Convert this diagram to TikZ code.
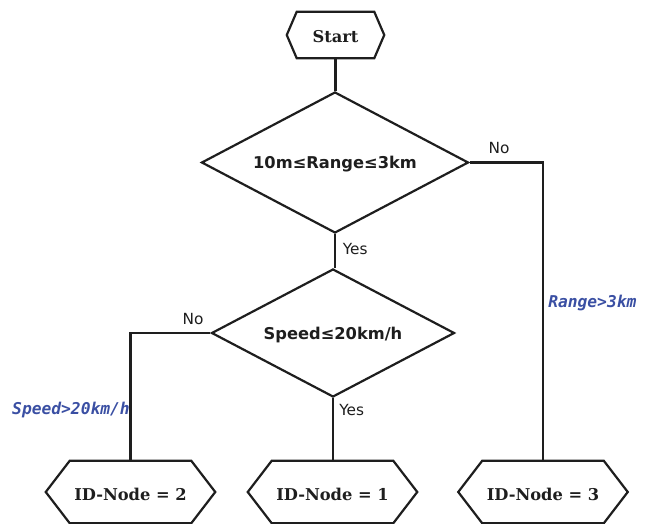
\documentclass[tikz,border=0pt]{standalone}
\usepackage{fontspec}
\setmainfont{DejaVu Sans}
\newfontfamily\boxfont{DejaVu Serif}
\newfontfamily\decfont{DejaVu Sans}
\newfontfamily\condfont{DejaVu Sans Mono}
\usetikzlibrary{shapes.geometric,calc}
\definecolor{ink}{HTML}{1E1E1E}
\definecolor{condblue}{HTML}{3A4FA3}
% shift a label down without changing its box
\newcommand{\lowered}[2]{\raisebox{-#1}[\height][\depth]{#2}}
\tikzset{
  hexbox/.style={inner sep=0pt, text=ink, font=\boxfont\bfseries\fontsize{12.2}{14}\selectfont},
  hexline/.style={draw=ink, line width=1.65pt, line join=miter},
  decision/.style={diamond, draw=ink, line width=1.65pt, inner sep=0pt, aspect=1.9,
    text=ink, font=\decfont\bfseries\fontsize{12.2}{14}\selectfont},
  flow/.style={draw=ink, line width=1.65pt},
  answer/.style={text=ink, inner sep=0pt, font=\decfont\fontsize{11.5}{13}\selectfont},
  cond/.style={text=condblue, inner sep=0pt, font=\condfont\bfseries\itshape\fontsize{12.2}{14}\selectfont},
}
% hexagon outline around a node; #2 is the inset of the side points
\newcommand{\hexframe}[2]{%
  \draw[hexline] (#1.west) -- ($(#1.north west)+(#2,0)$) -- ($(#1.north east)+(-#2,0)$)
    -- (#1.east) -- ($(#1.south east)+(-#2,0)$) -- ($(#1.south west)+(#2,0)$) -- cycle;}
\begin{document}
\begin{tikzpicture}[x=0.75pt,y=-0.75pt]
  \useasboundingbox (0,0) rectangle (649,524);

  % terminals
  \node[hexbox, minimum width=97*0.75pt, minimum height=46*0.75pt] (start) at (335.5,35) {\lowered{1.5pt}{Start}};
  \hexframe{start}{10}
  \node[hexbox, minimum width=169*0.75pt, minimum height=62*0.75pt] (id2) at (130.5,492) {\lowered{1.5pt}{ID-Node = 2}};
  \hexframe{id2}{24}
  \node[hexbox, minimum width=169*0.75pt, minimum height=62*0.75pt] (id1) at (332.5,492) {\lowered{1.5pt}{ID-Node = 1}};
  \hexframe{id1}{24}
  \node[hexbox, minimum width=169*0.75pt, minimum height=62*0.75pt] (id3) at (543,492) {\lowered{1.5pt}{ID-Node = 3}};
  \hexframe{id3}{24}

  % decisions
  \node[decision, minimum width=267*0.75pt, minimum height=141*0.75pt] (range) at (335,162.5) {\lowered{1.5pt}{10m≤Range≤3km}};
  \node[decision, minimum width=243*0.75pt, minimum height=128*0.75pt] (speed) at (333,333) {\lowered{1.2pt}{Speed≤20km/h}};

  % connectors
  \draw[flow] (start.south) -- (start.south |- range.north);
  \draw[flow] (range.south) -- (range.south |- speed.north);
  \draw[flow] (range.east) -| (id3.north);
  \draw[flow] (speed.west) -| (id2.north);
  \draw[flow] (speed.south) -- (speed.south |- id1.north);

  % branch answers
  \node[answer] (noA) at (499,148) {No};
  \node[answer, anchor=west] (yesA) at (342.5,249.5) {Yes};
  \node[answer] (noB) at (193,319.5) {No};
  \node[answer, anchor=west] (yesB) at (339,410.5) {Yes};

  % branch conditions
  \node[cond, anchor=west] (farcond) at (548,303) {Range>3km};
  \node[cond, anchor=east] (fastcond) at (130,410) {Speed>20km/h};
\end{tikzpicture}
\end{document}
